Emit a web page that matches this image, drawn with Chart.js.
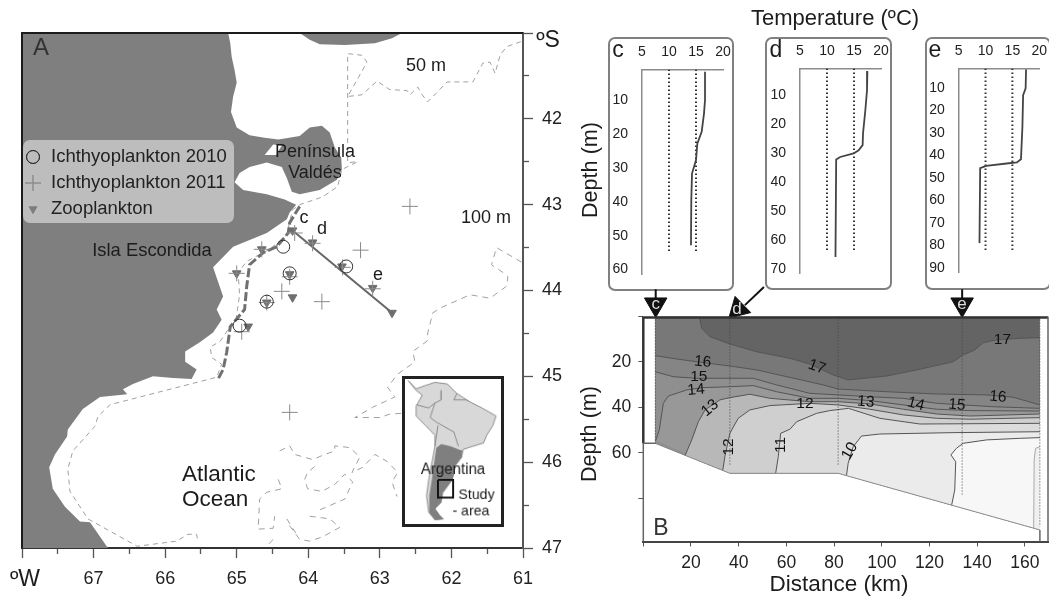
<!DOCTYPE html>
<html>
<head>
<meta charset="utf-8">
<title>Study area and temperature section</title>
<script src="https://cdn.jsdelivr.net/npm/chart.js@4"></script>
<style>
  body { margin: 0; background: #fff; }
  #page { position: relative; width: 1049px; height: 605px; overflow: hidden; }
  canvas { position: absolute; }
  .panel { position: absolute; box-sizing: border-box; border: 2px solid #808080; border-radius: 7px; background: #fff; }
</style>
</head>
<body>
<div id="page">
  <canvas id="map" width="1049" height="605" style="left:0;top:0"></canvas>
  <div class="panel" style="left:608px;top:37px;width:126px;height:254px"></div>
  <div class="panel" style="left:765px;top:37px;width:127px;height:253px"></div>
  <div class="panel" style="left:925px;top:37px;width:126px;height:253px"></div>
  <canvas id="profileC" width="124" height="250" style="left:609px;top:39px"></canvas>
  <canvas id="profileD" width="125" height="250" style="left:766px;top:39px"></canvas>
  <canvas id="profileE" width="122" height="250" style="left:926px;top:39px"></canvas>
  <canvas id="inset" width="102" height="151" style="left:402px;top:376px;border:3px solid #222"></canvas>
  <canvas id="section" width="500" height="320" style="left:575px;top:285px"></canvas>
</div>

<script>
// ========== MAP DATA (degrees W, degrees S) ==========
const coastline = [[68,41],[65.12,41],[65.09,41.12],[65.07,41.28],[65.03,41.43],[65,41.58],[65.05,41.74],[65.08,41.92],[65,42.1],[64.82,42.19],[64.61,42.22],[64.42,42.24],[64.33,42.23],[64.12,42.2],[63.98,42.1],[63.81,42.08],[63.7,42.16],[63.63,42.33],[63.54,42.45],[63.53,42.59],[63.6,42.71],[63.84,42.83],[64.12,42.88],[64.23,42.85],[64.3,42.69],[64.37,42.56],[64.58,42.51],[64.82,42.56],[64.96,42.63],[65.03,42.74],[64.91,42.83],[64.58,42.88],[64.33,42.94],[64.17,43],[64.26,43.09],[64.3,43.17],[64.58,43.33],[65.05,43.49],[65.33,43.73],[65.19,44.07],[65.28,44.22],[65.21,44.34],[65.33,44.49],[65.51,44.6],[65.72,44.71],[65.72,44.83],[65.56,44.92],[65.63,45.03],[65.89,45.02],[66.17,45],[66.45,45.09],[66.59,45.15],[66.53,45.21],[66.91,45.24],[67.15,45.38],[67.36,45.62],[67.37,45.7],[67.54,45.91],[67.62,46.06],[67.57,46.31],[67.4,46.52],[67.19,46.69],[67.05,46.7],[66.8,47],[68,47]];
const northLand = [[64.12,41],[62.69,41],[62.83,41.06],[63.07,41.12],[63.49,41.14],[63.84,41.13],[63.98,41.08]];
const whitePatch = [[64.61,42.42],[64.49,42.3],[64.37,42.31],[64.45,42.42]];

const isobath50 = [[61.03,41.1],[61.23,41.16],[61.32,41.26],[61.39,41.47],[61.46,41.34],[61.56,41.35],[61.7,41.57],[62.06,41.57],[62.2,41.69],[62.33,41.8],[62.41,41.72],[62.47,41.63],[62.58,41.72],[62.62,41.67],[62.86,41.66],[63.04,41.56],[63.25,41.72],[63.45,41.74],[63.18,41.34],[63.25,41.26],[63.45,41.24],[63.45,42.51],[63.31,42.5],[63.53,42.59],[63.59,42.79],[63.8,42.91],[64.12,43],[64.22,43.06],[64.26,43.2],[64.3,43.35],[64.54,43.52],[64.86,43.66],[64.98,43.79],[64.96,44.05],[65.01,44.34],[65.09,44.42],[65.23,44.59],[65.37,44.66],[65.35,44.78],[65.21,44.86],[65.28,45.01],[65.37,45.03],[66.77,45.33],[66.94,45.47],[66.98,45.58],[67.29,45.87],[67.36,46.08],[67.33,46.34],[67.08,46.66],[66.39,46.98],[65.84,46.92],[65.68,46.84],[65.56,46.84],[65.54,46.93]];
const isobath100 = [[61.02,43.67],[61.37,43.5],[61.44,43.7],[61.28,43.79],[61.21,43.84],[61.23,43.95],[61.46,44.09],[61.74,44.05],[62.12,44.19],[62.26,44.26],[62.33,44.49],[62.34,44.59],[62.54,44.71],[62.51,44.83],[62.76,44.98],[62.89,45.13],[62.79,45.24],[63.1,45.36],[63.35,45.48],[63,45.48],[62.86,45.44],[62.68,45.43]];
const isobathC = [[64.4,45.87],[64.26,45.81],[64.19,45.91],[63.94,45.97],[63.77,45.91],[63.63,45.87],[63.63,45.81],[63.42,45.83],[63.28,45.94],[63.39,46.12],[63.24,46.06],[63.07,45.91],[62.9,45.99],[62.75,46.12],[62.83,46.23],[62.76,46.4]];
const isobathD = [[63.91,46.05],[64.01,46.12],[64.05,46.2],[64.01,46.31],[63.81,46.34],[63.63,46.26],[63.49,46.14],[63.38,46.23],[63.49,46.43],[63.88,46.57]];
const isobathE = [[63.98,46.63],[63.7,46.66],[63.56,46.76],[63.8,46.87],[63.98,46.92],[64.12,46.9],[64.28,46.72]];
const isobathF = [[64.42,46.2],[64.37,46.31],[64.58,46.35],[64.68,46.43],[64.7,46.78],[64.49,46.77],[64.47,46.63]];
const isobathG = [[64.3,46.66],[64.15,46.86]];
const isobathH = [[64.49,46.9],[64.58,46.98]];

const coastalTrack = [[64.12,43.02],[64.26,43.21],[64.28,43.33],[64.44,43.49],[64.63,43.56],[64.82,43.7],[64.86,43.95],[64.89,44.22],[65.09,44.42],[65.14,44.72],[65.19,44.92],[65.26,45.03]];
const transect = [[64.22,43.3],[62.83,44.26]];

const ichthyo2010 = [[64.35,43.49],[64.26,43.8],[63.47,43.72],[64.58,44.13],[64.96,44.41]];
const ichthyo2011 = [[62.58,43.02],[63.27,43.53],[63.81,44.13],[63.52,43.73],[63.94,43.45],[64.19,43.33],[63.1,43.98],[64.26,43.84],[64.37,44.01],[64.65,43.52],[65,43.8],[64.58,44.14],[64.93,44.48],[64.26,45.42]];
const zooplankton = [[64.22,43.3],[63.94,43.44],[63.53,43.72],[63.1,43.97],[62.83,44.26],[64.22,44.08],[64.26,43.81],[64.65,43.52],[65,43.8],[64.58,44.14],[64.84,44.42]];

const lonTicks = [67,66,65,64,63,62,61];
const latTicks = [42,43,44,45,46,47];
const legendNames = ["Ichthyoplankton 2010","Ichthyoplankton 2011","Zooplankton"];

// ========== INSET DATA (lon, lat) ==========
const southAmerica = [[-85.1,12.5],[-80.6,8.6],[-75.3,10.2],[-69.9,11.7],[-62.8,10.9],[-57.5,6.3],[-50.4,2.4],[-43.2,-0.7],[-35.2,-4.6],[-37,-9.2],[-40.5,-13.9],[-42.3,-17.7],[-48.5,-19.3],[-53.9,-20.8],[-54.8,-24.7],[-58.4,-28.6],[-59.2,-32.5],[-60.1,-35.5],[-65.5,-41.8],[-66.4,-46.4],[-69.9,-49.5],[-67.3,-52.6],[-65.1,-54.5],[-69.9,-54.9],[-73.5,-51.1],[-74.7,-43.3],[-73.5,-35.5],[-71.4,-26.2],[-69.9,-19.3],[-69.9,-13.9],[-75.3,-9.2],[-80.6,-4.6],[-80.6,0.1],[-77.1,5.5],[-80.6,7.8]];
const argentina = [[-66.4,-18.2],[-61.1,-19.3],[-56.6,-20.8],[-54.3,-21.5],[-54.8,-24.7],[-58.4,-28.6],[-59.2,-32.5],[-60.1,-35.5],[-65.5,-41.8],[-66.4,-46.4],[-69.9,-49.5],[-67.3,-52.6],[-65.1,-54.5],[-69.9,-54.9],[-73.5,-51.1],[-73.1,-43.3],[-71.4,-34],[-69.9,-24.7],[-69.1,-20.1]];
const borderBrazil = [[-66.4,7.8],[-66.4,3.2],[-69.9,1.7],[-72.6,-5.3],[-69.1,-7.6],[-59.2,-12.3],[-56.6,-19.3]];
const borderEcuador = [[-80.6,0.9],[-73.5,-0.7],[-69.9,1.7]];
const borderBolivia = [[-68.2,-9.2],[-69.9,-19.3]];
const borderGuianas = [[-57.5,6.3],[-59.2,3.2],[-52.1,3.2],[-50.4,2.4]];
const studyBox = [[-68.2,-35.5],[-59.6,-35.5],[-59.6,-44.1],[-68.2,-44.1],[-68.2,-35.5]];

// ========== PROFILE DATA (temp ºC, depth m) ==========
const tempTicks = [5,10,15,20];
const profileC = [[16.67,1.7],[16.67,10],[16.48,14],[16.05,19.4],[15.25,22.8],[15,27.7],[14.26,31.7],[14.13,39.5],[14.07,52.8]];
const profileD = [[17.48,1.7],[17.41,8.3],[17.1,15.2],[16.67,23.2],[16.6,27.2],[15.86,29],[14.93,30.1],[12.45,31.3],[11.7,32.2],[11.57,65.8]];
const profileE = [[17.55,1.9],[17.47,10.3],[17,13.3],[16.87,27.3],[16.6,41.7],[15.84,43.1],[14.33,43.5],[10.09,44.7],[9,45.7],[8.87,78.9]];

// ========== SECTION DATA (km, depth m) ==========
const iso17 = [[23.5,0],[24.5,5.2],[28,8.9],[36.3,12.1],[47.5,15.5],[61.5,18.4],[69.8,20.9],[79.6,25.7],[85.9,27.9],[102,26.2],[116,23.2],[129.9,19.9],[134.1,16.9],[139,14.7],[142.5,11.5],[148.1,10.3],[157.9,9.6],[166.3,9.3]];
const iso16 = [[5,17.2],[14,18.7],[22.4,19.9],[36.3,21.8],[47.5,23.5],[61.5,26.8],[75.4,30.1],[81.7,31.9],[102,33.1],[123,34.1],[143.9,34.5],[155,35.5],[166.3,38.9]];
const iso15 = [[5,24.3],[12.6,26.5],[22.4,27.2],[36.3,27.2],[46.1,27.2],[55.9,30.1],[69.8,33.8],[81.7,34.5],[95,35.3],[109,36],[123,38.2],[134.1,38.9],[146.7,39.7],[166.3,40.4]];
const iso14 = [[5.2,54.6],[6.7,49.9],[8.4,38.2],[10.5,35],[18.2,32.3],[25.1,31.3],[36.3,30.9],[46.1,30.4],[55.9,33.1],[69.8,36],[81.7,36],[95,37],[109,38.9],[123,40.8],[136.9,41.4],[166.3,41.6]];
const iso13 = [[17.5,61.2],[20.3,54.3],[23.1,46.3],[25.9,41.1],[32.1,36.7],[36.3,35.7],[44.7,34.2],[53.1,36],[69.8,37.5],[81.7,37.5],[95,38.5],[109,40.8],[123,42.9],[136.9,43.8],[166.3,42.9]];
const iso12 = [[33.3,67.8],[34.2,61.7],[36.3,51.4],[39.8,44.8],[44.7,41.1],[53.1,39.2],[69.8,38.2],[81.7,38.9],[95,40.8],[109,43.3],[123,44.8],[136.9,45.2],[166.3,44.5]];
const iso11 = [[55.5,69],[56.6,61.7],[57.6,51.4],[61.5,49.6],[64.3,46.3],[72.7,42.6],[78.2,41.4],[86,40.4],[99.2,44.8],[116,47.3],[166.3,47]];
const iso10 = [[85.2,70],[85.9,64.6],[88,57.3],[91.5,52.6],[99.2,51.7],[129.9,51.1],[166.3,50.7]];
const iso9 = [[129.3,83],[130.6,76.3],[131,63.9],[129,60.9],[131.3,58],[134.1,55.8],[143.9,54.3],[157.9,53.6],[166.3,53.3]];
const iso8 = [[163.7,93.1],[163.7,91.7],[163.9,63.1],[164.5,58],[166.3,57.3]];
const seabed = [[166.3,93.9],[81.7,69],[36.3,69],[5,55.8]];
const bandColors = ["#787878","#858585","#8f8f8f","#989898","#b8b8b8","#cfcfcf","#dcdcdc","#ebebeb","#f7f7f7","#f0f0f0"];
const castKm = [5,36.3,81.7,133.7,166.3];
const castBottom = [55.8,65.3,65.3,78.5,92.5];
const distanceTicks = [20,40,60,80,100,120,140,160];
const depthTicks = [20,40,60];
const contourLabels = [["17",72.8,22.2,20],["17",150.6,10.3,0],["16",24.9,20,5],["15",23.3,26.6,0],["14",22.1,32.3,-5],["13",28,40.3,-40],["12",67.8,38.5,0],["12",35.9,57.4,-90],["11",57.7,56.5,-90],["13",93.3,37.6,5],["14",114.3,38.5,15],["15",131.5,38.9,5],["16",148.7,35.4,5],["10",86.6,59.2,-60]];

// ========== HELPERS ==========
const FONT = '"Liberation Sans", Arial, sans-serif';
Chart.defaults.font.family = FONT;
Chart.defaults.color = "#222";
Chart.defaults.animation = false;
Chart.defaults.responsive = false;
Chart.defaults.plugins.legend.display = false;
Chart.defaults.plugins.tooltip.enabled = false;

const polyline = (data, color, width, dash = []) => ({
  data, showLine: true, borderColor: color, borderWidth: width, borderDash: dash, pointRadius: 0, tension: 0,
});
const filled = (data, color) => ({
  data, showLine: true, fill: "shape", backgroundColor: color, borderWidth: 0, pointRadius: 0, tension: 0,
});
const marks = (data, style, radius, color, fillColor, rotation = 0) => ({
  data, showLine: false, pointStyle: style, pointRadius: radius, pointBorderColor: color, pointBorderWidth: 1,
  pointBackgroundColor: fillColor, pointRotation: rotation,
});
// fixes an axis box so the plot area lands exactly where it should
const boxSize = (px) => (scale) => {
  if (scale.isHorizontal()) scale.height = px;
  else scale.width = px;
};
// first dataset is drawn last in Chart.js, so flip the paint order
const paint = (list) => list.slice().reverse();

// page-positioned text, drawn on whichever canvas owns it
const textPlugin = (items) => ({
  id: "pageText",
  afterDatasetsDraw(chart) {
    const { ctx, canvas } = chart;
    for (const it of items) {
      ctx.save();
      ctx.translate(it.x - canvas.offsetLeft, it.y - canvas.offsetTop);
      if (it.angle) ctx.rotate((it.angle * Math.PI) / 180);
      ctx.font = it.size + "px " + FONT;
      ctx.fillStyle = it.color || "#1c1c1c";
      ctx.textAlign = it.align || "center";
      ctx.textBaseline = "middle";
      ctx.fillText(it.t, 0, 0);
      ctx.restore();
    }
  },
});

// ========== MAP ==========
const mapLegend = {
  id: "mapLegend",
  afterDatasetsDraw(chart) {
    const { ctx } = chart;
    ctx.save();
    ctx.fillStyle = "#bdbdbd";
    ctx.beginPath();
    ctx.roundRect(23, 140, 211, 83, 7);
    ctx.fill();
    const rows = [157, 183, 209];
    ctx.strokeStyle = "#333";
    ctx.lineWidth = 1;
    Chart.helpers.drawPoint(ctx, { pointStyle: "circle", radius: 6.5, rotation: 0, borderWidth: 1 }, 33, rows[0]);
    ctx.stroke();
    ctx.strokeStyle = "#8c8c8c";
    Chart.helpers.drawPoint(ctx, { pointStyle: "cross", radius: 8, rotation: 0, borderWidth: 1 }, 33, rows[1]);
    ctx.stroke();
    ctx.fillStyle = "#7d7d7d";
    Chart.helpers.drawPoint(ctx, { pointStyle: "triangle", radius: 5, rotation: 180, borderWidth: 0 }, 33, rows[2]);
    ctx.fill();
    ctx.fillStyle = "#222";
    ctx.font = "18.5px " + FONT;
    ctx.textBaseline = "middle";
    legendNames.forEach((name, i) => ctx.fillText(name, 51, rows[i]));
    ctx.restore();
  },
};

const mapFrame = {
  id: "mapFrame",
  afterDraw(chart) {
    const { ctx, chartArea: a } = chart;
    ctx.save();
    ctx.strokeStyle = "#1c1c1c";
    ctx.lineWidth = 2;
    ctx.beginPath();
    ctx.moveTo(a.left, a.bottom);
    ctx.lineTo(a.left, a.top);
    ctx.lineTo(a.right, a.top);
    ctx.stroke();
    ctx.restore();
  },
};

const mapTicks = {
  tickLength: 10, tickColor: "#555", tickWidth: 1.3, drawOnChartArea: false,
  tickBorderDash: (c) => (Number.isInteger(c.tick && c.tick.value) ? [] : [5, 20]),
};

new Chart(document.getElementById("map"), {
  type: "scatter",
  data: {
    datasets: paint([
      filled(coastline, "#7f7f7f"),
      filled(northLand, "#7f7f7f"),
      filled(whitePatch, "#fff"),
      polyline(isobath50, "#a0a0a0", 1, [5, 4]),
      polyline(isobath100, "#a0a0a0", 1, [6, 5]),
      polyline(isobathC, "#a0a0a0", 1, [6, 5]),
      polyline(isobathD, "#a0a0a0", 1, [6, 5]),
      polyline(isobathE, "#a0a0a0", 1, [6, 5]),
      polyline(isobathF, "#a0a0a0", 1, [6, 5]),
      polyline(isobathG, "#a0a0a0", 1, [6, 5]),
      polyline(isobathH, "#a0a0a0", 1, [6, 5]),
      polyline(coastalTrack, "#707070", 3, [9, 3]),
      polyline(transect, "#666", 2),
      marks(zooplankton, "triangle", 5, "#6e6e6e", "#6e6e6e", 180),
      marks(ichthyo2011, "cross", 8, "#8a8a8a", "#8a8a8a"),
      marks(ichthyo2010, "circle", 6.5, "#333", "transparent"),
    ]),
  },
  options: {
    layout: { padding: { left: 22, top: 33 } },
    scales: {
      x: {
        type: "linear", reverse: true, min: 61, max: 68, afterFit: boxSize(57),
        grid: mapTicks,
        border: { color: "#333", width: 2 },
        ticks: {
          stepSize: 0.5, autoSkip: false, maxRotation: 0, padding: 10, font: { size: 18 }, color: "#222",
          callback: (v) => (lonTicks.includes(v) ? String(v) : ""),
        },
      },
      y: {
        type: "linear", position: "right", reverse: true, min: 41, max: 47, afterFit: boxSize(526),
        grid: mapTicks,
        border: { color: "#555", width: 2 },
        ticks: {
          stepSize: 0.5, autoSkip: false, padding: 9, font: { size: 18 }, color: "#222",
          callback: (v) => (latTicks.includes(v) ? String(v) : ""),
        },
      },
    },
  },
  plugins: [mapFrame, mapLegend, textPlugin([
    { t: "A", x: 41, y: 48, size: 24, color: "#333" },
    { t: "Península", x: 315, y: 152, size: 18 },
    { t: "Valdés", x: 315, y: 173, size: 18 },
    { t: "Isla Escondida", x: 152, y: 251, size: 18.4 },
    { t: "50 m", x: 426, y: 66, size: 18 },
    { t: "100 m", x: 486, y: 218, size: 18 },
    { t: "c", x: 304, y: 218, size: 18 },
    { t: "d", x: 322, y: 229, size: 18 },
    { t: "e", x: 378, y: 275, size: 18 },
    { t: "Atlantic", x: 182, y: 475, size: 22.5, align: "left" },
    { t: "Ocean", x: 182, y: 500, size: 22.5, align: "left" },
    { t: "ºS", x: 548, y: 41, size: 23 },
    { t: "ºW", x: 25, y: 580, size: 23 },
    { t: "Temperature (ºC)", x: 835, y: 19, size: 22 },
    { t: "Depth (m)", x: 591, y: 170, size: 21.6, angle: -90 },
  ])],
});

// ========== INSET ==========
new Chart(document.getElementById("inset"), {
  type: "scatter",
  data: {
    datasets: paint([
      filled(southAmerica, "#d8d8d8"),
      polyline(southAmerica.concat([southAmerica[0]]), "#8a8a8a", 1),
      polyline(borderBrazil, "#8a8a8a", 1),
      polyline(borderEcuador, "#8a8a8a", 1),
      polyline(borderBolivia, "#8a8a8a", 1),
      polyline(borderGuianas, "#8a8a8a", 1),
      filled(argentina, "#7f7f7f"),
      polyline(studyBox, "#111", 2),
    ]),
  },
  options: {
    scales: {
      x: { type: "linear", display: false, min: -86.9, max: -32.4 },
      y: { type: "linear", display: false, min: -56.9, max: 13.3 },
    },
  },
  plugins: [textPlugin([
    { t: "Argentina", x: 453, y: 471, size: 16 },
    { t: "Study", x: 478, y: 497, size: 15 },
    { t: "- area", x: 472, y: 514, size: 15 },
  ])],
});

// ========== T PROFILES ==========
function profile(id, data, maxDepth, topDepth, dottedTo, depthLabels, box, letter, letterX) {
  const canvas = document.getElementById(id);
  new Chart(canvas, {
    type: "scatter",
    data: {
      datasets: [
        polyline(data, "#444", 1.8),
        polyline([[10, topDepth], [10, dottedTo]], "#333", 2, [1.5, 2.5]),
        polyline([[15, topDepth], [15, dottedTo]], "#333", 2, [1.5, 2.5]),
      ],
    },
    options: {
      layout: { padding: { right: box.right, bottom: box.bottom } },
      scales: {
        x: {
          type: "linear", position: "top", min: 5, max: 20, afterFit: boxSize(box.top),
          grid: { display: false },
          border: { color: "#8c8c8c", width: 1.5 },
          ticks: { stepSize: 5, autoSkip: false, maxRotation: 0, padding: 1, font: { size: 14 }, color: "#222",
            callback: (v) => (tempTicks.includes(v) ? String(v) : "") },
        },
        y: {
          type: "linear", reverse: true, min: topDepth, max: maxDepth, afterFit: boxSize(box.left),
          grid: { display: false },
          border: { color: "#8c8c8c", width: 1.5 },
          ticks: { stepSize: 10, autoSkip: false, includeBounds: false, padding: 6, font: { size: 14 }, color: "#222",
            callback: (v) => (depthLabels.includes(v) ? String(v) : "") },
        },
      },
    },
    plugins: [textPlugin([{ t: letter, x: letterX, y: 51, size: 23 }])],
  });
}

profile("profileC", profileC, 61.3, 1, 55, [10,20,30,40,50,60], { left: 33, top: 30.5, right: 10, bottom: 15 }, "c", 618);
profile("profileD", profileD, 71.3, 0.8, 63.4, [10,20,30,40,50,60,70], { left: 34, top: 29.5, right: 10, bottom: 16 }, "d", 776);
profile("profileE", profileE, 91.7, 1.5, 81.9, [10,20,30,40,50,60,70,80,90], { left: 32.7, top: 29.5, right: 7, bottom: 17 }, "e", 935);

// ========== SECTION B ==========
const isotherms = [iso17, iso16, iso15, iso14, iso13, iso12, iso11, iso10, iso9, iso8];
const belowIso = (iso) => {
  const startKm = iso[0][0];
  const start = iso === iso17 ? [[5, 0]] : [];
  const tail = iso === iso17 ? seabed : seabed.filter((p) => p[0] >= startKm);
  return start.concat(iso, tail);
};

const sectionDrawList = [
  filled([[5, 0], [166.3, 0]].concat(seabed), "#646464"),
];
isotherms.forEach((iso, i) => sectionDrawList.push(filled(belowIso(iso), bandColors[i])));
isotherms.forEach((iso, i) => sectionDrawList.push(polyline(iso, i === 9 ? "#aaa" : "#555", 1)));
sectionDrawList.push(polyline(seabed, "#8c8c8c", 1));
castKm.forEach((km, i) => sectionDrawList.push(polyline([[km, 0], [km, castBottom[i]]], "#444", 1, [1, 2])));

// station flags above the section
const stem = (data) => Object.assign(polyline(data, "#111", 2), { clip: false });
const flag = (data, rotation) => Object.assign(marks(data, "triangle", 13, "#111", "#111", rotation), { clip: false });
sectionDrawList.push(stem([[5.2, -12], [5.2, -7]]));
sectionDrawList.push(stem([[133.7, -12], [133.7, -7]]));
sectionDrawList.push(stem([[50.6, -13], [42.6, -5]]));
sectionDrawList.push(flag([[5.2, -5.3], [133.7, -5.3]], 180));
sectionDrawList.push(flag([[39.8, -3.3]], 226));

const sectionFrame = {
  id: "sectionFrame",
  afterDraw(chart) {
    const { ctx, chartArea: a, scales } = chart;
    const seaY = scales.y.getPixelForValue(55.8);
    ctx.save();
    ctx.strokeStyle = "#333";
    ctx.lineWidth = 2.5;
    ctx.beginPath();
    ctx.moveTo(a.left, seaY);
    ctx.lineTo(a.left, a.top + 1);
    ctx.lineTo(a.right, a.top + 1);
    ctx.stroke();
    ctx.strokeStyle = "#666";
    ctx.lineWidth = 1.5;
    ctx.beginPath();
    ctx.moveTo(a.left, seaY);
    ctx.lineTo(a.left, a.bottom);
    ctx.moveTo(a.right, a.top);
    ctx.lineTo(a.right, a.bottom);
    ctx.moveTo(a.left, seaY);
    ctx.lineTo(scales.x.getPixelForValue(5), seaY);
    ctx.moveTo(scales.x.getPixelForValue(166.3), scales.y.getPixelForValue(93.9));
    ctx.lineTo(scales.x.getPixelForValue(166.3), a.bottom);
    ctx.stroke();
    ctx.restore();
  },
};

const contourText = {
  id: "contourText",
  afterDatasetsDraw(chart) {
    const { ctx, scales } = chart;
    ctx.save();
    ctx.font = "15.5px " + FONT;
    ctx.fillStyle = "#111";
    ctx.textAlign = "center";
    ctx.textBaseline = "middle";
    for (const [t, km, depth, angle] of contourLabels) {
      ctx.save();
      ctx.translate(scales.x.getPixelForValue(km), scales.y.getPixelForValue(depth));
      ctx.rotate((angle * Math.PI) / 180);
      ctx.fillText(t, 0, 0);
      ctx.restore();
    }
    ctx.restore();
  },
};

new Chart(document.getElementById("section"), {
  type: "scatter",
  data: { datasets: paint(sectionDrawList) },
  options: {
    layout: { padding: { top: 31.5, right: 27 } },
    scales: {
      x: {
        type: "linear", min: 0, max: 169.7, afterFit: boxSize(63.5),
        grid: { drawOnChartArea: false, tickLength: 5, tickColor: "#555" },
        border: { color: "#444", width: 2 },
        ticks: { stepSize: 20, autoSkip: false, includeBounds: false, maxRotation: 0, padding: 6, font: { size: 17.5 }, color: "#222",
          callback: (v) => (distanceTicks.includes(v) ? String(v) : "") },
      },
      y: {
        type: "linear", reverse: true, min: 0, max: 99, afterFit: boxSize(68.3),
        grid: { drawOnChartArea: false, tickLength: 5, tickColor: "#555" },
        border: { display: false },
        ticks: { stepSize: 20, autoSkip: false, includeBounds: false, padding: 7, font: { size: 17.5 }, color: "#222",
          callback: (v) => (depthTicks.includes(v) ? String(v) : "") },
      },
    },
  },
  plugins: [sectionFrame, contourText, textPlugin([
    { t: "c", x: 655.7, y: 304, size: 17, color: "#ddd" },
    { t: "d", x: 737, y: 309, size: 17, color: "#ddd" },
    { t: "e", x: 962, y: 304, size: 17, color: "#ddd" },
    { t: "B", x: 661, y: 529, size: 23, color: "#333" },
    { t: "Distance (km)", x: 839, y: 585, size: 22.5 },
    { t: "Depth (m)", x: 590, y: 434, size: 21.6, angle: -90 },
  ])],
});
</script>
</body>
</html>
